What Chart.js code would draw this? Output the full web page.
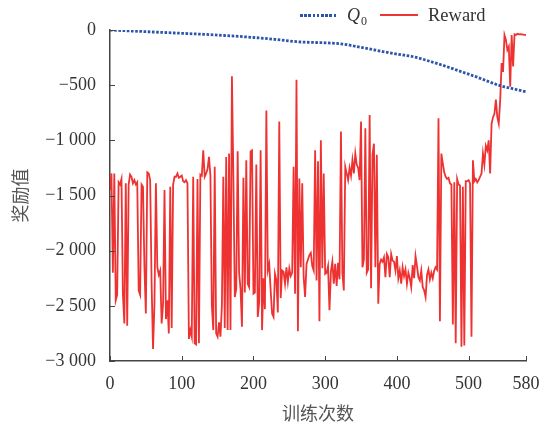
<!DOCTYPE html>
<html lang="zh">
<head>
<meta charset="UTF-8">
<title>奖励值</title>
<style>
  body { margin: 0; background: #fff; }
  #wrap { position: relative; width: 541px; height: 431px; }
  .lg { position: absolute; font-family: "Liberation Serif", serif; font-size: 18px; color: #333; line-height: 1; }
  .q0 { left: 300px; top: 14px; width: 38px; height: 3px;
        background: repeating-linear-gradient(90deg, #2b55a8 0 2.6px, transparent 2.6px 4.2px); }
  .rw { left: 380px; top: 14px; width: 38px; height: 2px; background: #ee3535; }
</style>
</head>
<body>
<div id="wrap">
  <canvas id="myChart" width="541" height="431"></canvas>
  <div class="lg q0"></div>
  <div class="lg" style="left:347px;top:6px;"><i>Q</i><span style="font-size:12px;position:relative;top:4px;left:1px;">0</span></div>
  <div class="lg rw"></div>
  <div class="lg" style="left:428px;top:6px;font-size:18.5px;">Reward</div>
</div>
<script src="https://cdn.jsdelivr.net/npm/chart.js"></script>
<script>
    // Q0 estimate, one value every 10 episodes
    const qStep = 10;
    const qValues = [
        0, -3, -6, -9, -12, -15, -18, -21, -24, -27,
        -30, -33, -36, -39, -42, -46, -50, -54, -58, -63,
        -68, -73, -79, -85, -92, -99, -106, -110, -112, -114,
        -116, -119, -124, -132, -145, -158, -170, -182, -195, -207,
        -218, -228, -238, -253, -272, -292, -312, -333, -355, -378,
        -400, -423, -448, -473, -497, -515, -530, -545, -560
    ];

    // reward per episode, sampled every 2 episodes
    const rewardStep = 2;
    const rewardValues = [
        -1450, -1300, -2200, -1300, -2450, -2400, -1380, -1400, -1350, -2400,
        -2660, -1390, -2680, -1400, -1310, -1330, -1390, -1360, -1400, -1380,
        -2360, -2400, -1400, -1420, -2150, -2570, -1290, -1300, -1360, -2300,
        -2890, -2480, -1390, -2150, -2220, -2180, -2660, -2480, -1450, -2620,
        -2450, -2750, -1420, -2700, -1400, -1330, -1330, -1300, -1340, -1330,
        -1320,
        -1370, -1380, -1360, -1390, -2800, -2720, -2780, -1330, -2840, -2850,
        -1350, -2840, -1310, -1320, -1090, -1330, -1300, -1260, -1150, -1320,
        -2500, -2720, -1240, -2750, -2780, -2650, -2780, -2500, -1330, -2700,
        -1150, -2720, -1120, -2720, -420, -1320, -2420, -2350, -1100, -2200,
        -2350, -2690, -1340, -2380, -1180, -2300, -2330, -1100, -1090, -2390,
        -2380, -1220, -2600, -2470, -1090, -2720, -2250, -2530, -730, -2180,
        -2120, -2360, -2570, -2600, -2210, -2270, -2560, -830, -2430, -2180,
        -2190, -2300, -2150, -2280, -2160, -2230, -2200, -1240, -2390, -450,
        -2730, -1345, -2150, -1390, -2240, -2420, -2120, -2080, -2040, -2020,
        -2140, -2180, -1090, -2270, -1190, -2640, -1000, -2160, -1300, -2210,
        -2200, -2140, -2540, -2190, -2100, -2300, -2120, -2320, -2110, -2260,
        -920, -2200, -2360, -1240, -1300, -1360, -1250, -1320, -1180, -1300,
        -1120, -1220, -1250, -1360, -830, -2150, -2080, -890, -2200, -2170,
        -770, -2340, -1130, -1030, -2150, -1130, -2480, -2120, -2080, -2100,
        -2060, -2240, -2030, -2060, -2240, -2030, -2090, -2100, -2180, -2050,
        -2250, -2180, -2300, -2150, -2230, -2170, -2300, -2200, -2250, -2330,
        -2130, -2250, -2050, -2140, -2240, -2270, -2180, -2330, -2360, -2420,
        -2220, -2170, -2260, -2200, -2250, -2180, -2150, -2170, -800, -2640,
        -1120, -1210, -1290, -1330, -1350, -1340, -1390, -1400, -2670, -1380,
        -2840, -1350, -1400, -1410, -2870, -1420, -2860, -1370, -1370, -1360,
        -1390, -2780, -1180, -1370, -1350, -1380, -1360, -1330, -1300, -1120,
        -1220, -1050, -1090, -1000, -1300, -850, -790, -760, -630, -790,
        -850, -640, -300, -380, -45, -90, -180, -150, -514, -45,
        -330, -40, -45, -35, -40, -38, -40, -42, -45, -45
    ];

    const xTicks = [0, 100, 200, 300, 400, 500, 580];
    const yTicks = [0, -500, -1000, -1500, -2000, -2500, -3000];

    const qData = qValues.map((v, i) => ({ x: i * qStep, y: v }));
    const rewardData = rewardValues.map((v, i) => ({ x: i * rewardStep, y: v }));

    // "−1 000" style labels
    const fmt = v => v === 0 ? '0' : '\u2212' + String(-v).replace(/\B(?=(\d{3})+$)/g, ' ');

    const tickFont = { family: 'Liberation Serif', size: 18 };
    const titleFont = { family: 'Noto Sans CJK SC', size: 18 };

    // short tick marks pointing into the plot
    const innerTicks = {
        id: 'innerTicks',
        afterDraw(chart) {
            const { ctx, chartArea: a, scales: { x, y } } = chart;
            ctx.save();
            ctx.strokeStyle = '#444';
            ctx.lineWidth = 1;
            ctx.beginPath();
            x.ticks.forEach((t, i) => {
                const px = Math.round(x.getPixelForTick(i)) + 0.5;
                ctx.moveTo(px, a.bottom);
                ctx.lineTo(px, a.bottom - 5);
            });
            y.ticks.forEach((t, i) => {
                const py = Math.round(y.getPixelForTick(i)) + 0.5;
                ctx.moveTo(a.left, py);
                ctx.lineTo(a.left + 5, py);
            });
            ctx.stroke();
            ctx.restore();
        }
    };

    const config = {
        type: 'line',
        data: {
            datasets: [{
                label: 'Q0',
                data: qData,
                borderColor: '#2b55a8',
                borderWidth: 2.8,
                borderDash: [2.6, 1.6],
                borderCapStyle: 'butt',
                pointRadius: 0,
                fill: false
            }, {
                label: 'Reward',
                data: rewardData,
                borderColor: 'rgb(238, 50, 50)',
                borderWidth: 1.8,
                pointRadius: 0,
                fill: false
            }]
        },
        options: {
            responsive: false,
            animation: false,
            layout: { padding: { top: 30, right: 15, left: 0, bottom: 0 } },
            plugins: {
                legend: { display: false },
                tooltip: { enabled: false }
            },
            scales: {
                x: {
                    type: 'linear',
                    min: 0,
                    max: 580,
                    afterBuildTicks: s => { s.ticks = xTicks.map(v => ({ value: v })); },
                    afterFit: s => { s.height = 70; s.paddingRight = 0; s.paddingLeft = 0; },
                    grid: { drawOnChartArea: false, drawTicks: false },
                    border: { color: '#444', width: 1.5 },
                    ticks: { color: '#333', font: tickFont, padding: 12, maxRotation: 0 },
                    title: {
                        display: true,
                        text: '训练次数',
                        color: '#555',
                        font: titleFont,
                        padding: { top: 0, bottom: 7 }
                    }
                },
                y: {
                    min: -3000,
                    max: 0,
                    afterBuildTicks: s => { s.ticks = yTicks.map(v => ({ value: v })); },
                    afterFit: s => { s.width = 110; s.paddingTop = 0; s.paddingBottom = 0; },
                    grid: { drawOnChartArea: false, drawTicks: false },
                    border: { color: '#444', width: 1.5 },
                    ticks: { color: '#333', font: tickFont, padding: 14, callback: v => fmt(v) },
                    title: {
                        display: true,
                        text: '奖励值',
                        color: '#555',
                        font: titleFont,
                        padding: { top: 9, bottom: 0 }
                    }
                }
            }
        },
        plugins: [innerTicks]
    };

    var myChart = new Chart(document.getElementById('myChart'), config);
</script>
</body>
</html>
